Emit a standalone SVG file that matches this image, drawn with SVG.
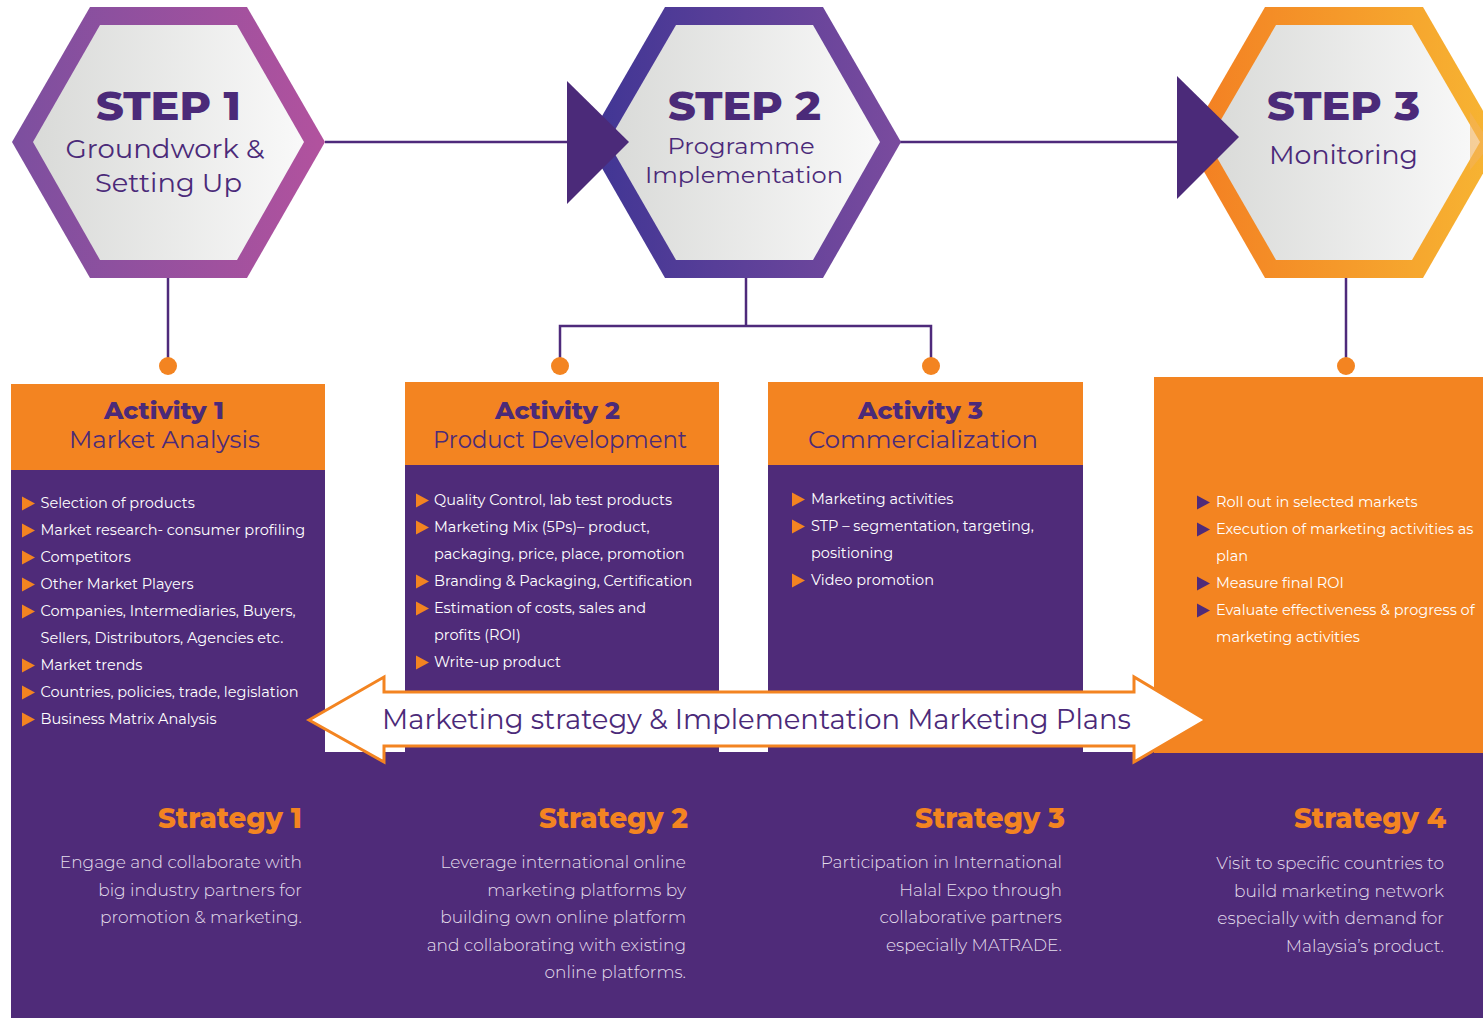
<svg xmlns="http://www.w3.org/2000/svg" xmlns:xlink="http://www.w3.org/1999/xlink" width="1483" height="1018" viewBox="0 0 1483 1018">
<defs>
<linearGradient id="g1" x1="0" y1="0" x2="1" y2="0"><stop offset="0" stop-color="#7C4F9F"/><stop offset="1" stop-color="#B2529E"/></linearGradient>
<linearGradient id="g2" x1="0" y1="0" x2="1" y2="0"><stop offset="0" stop-color="#3F3594"/><stop offset="1" stop-color="#7A4B9E"/></linearGradient>
<linearGradient id="g3" x1="0" y1="0" x2="1" y2="0"><stop offset="0" stop-color="#F37E22"/><stop offset="1" stop-color="#F7B633"/></linearGradient>
<linearGradient id="gi" x1="0" y1="0" x2="1" y2="0"><stop offset="0" stop-color="#D9DAD8"/><stop offset="1" stop-color="#F9F9F9"/></linearGradient>
<path id="tri" d="M0,-7 L13,0 L0,7 Z"/>
<style>
text{font-family:Montserrat,"Open Sans","Liberation Sans",sans-serif;}
.step{font-size:40px;font-weight:800;fill:#4B2A79;text-anchor:middle;}
.sub{font-size:27px;font-weight:400;fill:#4B2A79;text-anchor:middle;}
.sub2{font-size:23px;font-weight:400;fill:#4B2A79;text-anchor:middle;}
.act{font-size:24px;font-weight:800;fill:#4B2A79;text-anchor:middle;}
.actsub{font-size:25px;font-weight:400;fill:#4B2A79;text-anchor:middle;}
.bul{font-size:14.5px;font-weight:400;fill:#FFFFFF;}
.stt{font-size:28px;font-weight:800;fill:#F38421;text-anchor:end;}
.stb{font-size:17px;font-weight:300;fill:#E4DEEC;text-anchor:end;}
.ban{font-size:28px;font-weight:400;fill:#4B2A79;}
.ln{stroke:#4E2A7B;stroke-width:2.5;fill:none;}
.dot{fill:#F38421;}
.ob{fill:#F38421;}
.pb{fill:#4F2B79;}
.ot{fill:#F38421;}
.pt{fill:#4F2B79;}
</style>
</defs>
<rect width="1483" height="1018" fill="#FFFFFF"/>

<g id="connectors">
<line class="ln" x1="325" y1="142" x2="570" y2="142"/>
<line class="ln" x1="900" y1="142" x2="1180" y2="142"/>
<line class="ln" x1="168" y1="278" x2="168" y2="366"/>
<polyline class="ln" points="746,278 746,326"/>
<polyline class="ln" points="560,366 560,326 931,326 931,366"/>
<line class="ln" x1="1346" y1="278" x2="1346" y2="366"/>
<circle class="dot" cx="168" cy="366" r="9"/>
<circle class="dot" cx="560" cy="366" r="9"/>
<circle class="dot" cx="931" cy="366" r="9"/>
<circle class="dot" cx="1346" cy="366" r="9"/>
</g>

<g id="step1">
<polygon points="90,7 247,7 325,142 247,278 90,278 12,142" fill="url(#g1)"/>
<polygon points="100,25 237,25 304,142 237,260 100,260 33,142" fill="url(#gi)"/>
<text class="step" x="168.5" y="120" textLength="145" lengthAdjust="spacingAndGlyphs">STEP 1</text>
<text class="sub" x="165" y="158" textLength="199" lengthAdjust="spacingAndGlyphs">Groundwork &amp;</text>
<text class="sub" x="168.5" y="192" textLength="147" lengthAdjust="spacingAndGlyphs">Setting Up</text>
</g>

<g id="step2">
<polygon points="665,7 823,7 901,142 823,278 665,278 587,142" fill="url(#g2)"/>
<polygon points="676,25 813,25 880,142 813,260 676,260 608,142" fill="url(#gi)"/>
<polygon points="567,81 629,142 567,204" fill="#4B2A79"/>
<text class="step" x="744.5" y="120" textLength="153" lengthAdjust="spacingAndGlyphs">STEP 2</text>
<text class="sub2" x="741" y="154" textLength="147" lengthAdjust="spacingAndGlyphs">Programme</text>
<text class="sub2" x="744" y="183" textLength="198" lengthAdjust="spacingAndGlyphs">Implementation</text>
</g>

<g id="step3">
<polygon points="1265,7 1423,7 1501,142 1423,278 1265,278 1187,142" fill="url(#g3)"/>
<polygon points="1276,25 1412,25 1480,142 1412,260 1276,260 1208,142" fill="url(#gi)"/>
<polygon points="1470,112 1483,132 1483,154 1470,170" fill="#F4B25A" opacity="0.6"/>
<polygon points="1177,76 1239,137 1177,199" fill="#4B2A79"/>
<text class="step" x="1343.5" y="120" textLength="153" lengthAdjust="spacingAndGlyphs">STEP 3</text>
<text class="sub" x="1343.5" y="164" textLength="149" lengthAdjust="spacingAndGlyphs">Monitoring</text>
</g>

<g id="strategy-band">
<rect x="11" y="752" width="1472" height="266" class="pb"/>
</g>

<g id="activity1">
<rect x="11" y="384" width="314" height="86" class="ob"/>
<rect x="11" y="470" width="314" height="283" class="pb"/>
<text class="act" x="164" y="419" textLength="120" lengthAdjust="spacingAndGlyphs">Activity 1</text>
<text class="actsub" x="164.5" y="448" textLength="191" lengthAdjust="spacingAndGlyphs">Market Analysis</text>
<use xlink:href="#tri" href="#tri" class="ot" x="22" y="503.5"/>
<use xlink:href="#tri" href="#tri" class="ot" x="22" y="530.5"/>
<use xlink:href="#tri" href="#tri" class="ot" x="22" y="557.5"/>
<use xlink:href="#tri" href="#tri" class="ot" x="22" y="584.5"/>
<use xlink:href="#tri" href="#tri" class="ot" x="22" y="611.5"/>
<use xlink:href="#tri" href="#tri" class="ot" x="22" y="665.5"/>
<use xlink:href="#tri" href="#tri" class="ot" x="22" y="692.5"/>
<use xlink:href="#tri" href="#tri" class="ot" x="22" y="719.5"/>
<text class="bul" x="40.5" y="508">Selection of products</text>
<text class="bul" x="40.5" y="535">Market research- consumer profiling</text>
<text class="bul" x="40.5" y="562">Competitors</text>
<text class="bul" x="40.5" y="589">Other Market Players</text>
<text class="bul" x="40.5" y="616">Companies, Intermediaries, Buyers,</text>
<text class="bul" x="40.5" y="643">Sellers, Distributors, Agencies etc.</text>
<text class="bul" x="40.5" y="670">Market trends</text>
<text class="bul" x="40.5" y="697">Countries, policies, trade, legislation</text>
<text class="bul" x="40.5" y="724">Business Matrix Analysis</text>
</g>

<g id="activity2">
<rect x="405" y="382" width="314" height="83" class="ob"/>
<rect x="405" y="465" width="314" height="288" class="pb"/>
<text class="act" x="557.5" y="419" textLength="125" lengthAdjust="spacingAndGlyphs">Activity 2</text>
<text class="actsub" x="560" y="448" textLength="254" lengthAdjust="spacingAndGlyphs">Product Development</text>
<use xlink:href="#tri" href="#tri" class="ot" x="416" y="500.5"/>
<use xlink:href="#tri" href="#tri" class="ot" x="416" y="527.5"/>
<use xlink:href="#tri" href="#tri" class="ot" x="416" y="581.5"/>
<use xlink:href="#tri" href="#tri" class="ot" x="416" y="608.5"/>
<use xlink:href="#tri" href="#tri" class="ot" x="416" y="662.5"/>
<text class="bul" x="434" y="505">Quality Control, lab test products</text>
<text class="bul" x="434" y="532">Marketing Mix (5Ps)– product,</text>
<text class="bul" x="434" y="559">packaging, price, place, promotion</text>
<text class="bul" x="434" y="586">Branding &amp; Packaging, Certification</text>
<text class="bul" x="434" y="613">Estimation of costs, sales and</text>
<text class="bul" x="434" y="640">profits (ROI)</text>
<text class="bul" x="434" y="667">Write-up product</text>
</g>

<g id="activity3">
<rect x="768" y="382" width="315" height="83" class="ob"/>
<rect x="768" y="465" width="315" height="288" class="pb"/>
<text class="act" x="920.5" y="419" textLength="125" lengthAdjust="spacingAndGlyphs">Activity 3</text>
<text class="actsub" x="923" y="448" textLength="230" lengthAdjust="spacingAndGlyphs">Commercialization</text>
<use xlink:href="#tri" href="#tri" class="ot" x="792" y="499.5"/>
<use xlink:href="#tri" href="#tri" class="ot" x="792" y="526.5"/>
<use xlink:href="#tri" href="#tri" class="ot" x="792" y="580.5"/>
<text class="bul" x="811" y="504">Marketing activities</text>
<text class="bul" x="811" y="531">STP – segmentation, targeting,</text>
<text class="bul" x="811" y="558">positioning</text>
<text class="bul" x="811" y="585">Video promotion</text>
</g>

<g id="activity4">
<rect x="1154" y="377" width="329" height="376" class="ob"/>
<use xlink:href="#tri" href="#tri" class="pt" x="1197" y="502.5"/>
<use xlink:href="#tri" href="#tri" class="pt" x="1197" y="529.5"/>
<use xlink:href="#tri" href="#tri" class="pt" x="1197" y="583.5"/>
<use xlink:href="#tri" href="#tri" class="pt" x="1197" y="610.5"/>
<text class="bul" x="1216" y="507">Roll out in selected markets</text>
<text class="bul" x="1216" y="534">Execution of marketing activities as</text>
<text class="bul" x="1216" y="561">plan</text>
<text class="bul" x="1216" y="588">Measure final ROI</text>
<text class="bul" x="1216" y="615">Evaluate effectiveness &amp; progress of</text>
<text class="bul" x="1216" y="642">marketing activities</text>
</g>

<g id="banner-arrow">
<polygon points="309,720 384,677 384,692 1134,692 1134,677 1206,720 1134,762 1134,746 384,746 384,762" fill="#FFFFFF" stroke="#F38421" stroke-width="3" stroke-linejoin="miter"/>
<text class="ban" x="382" y="729" textLength="749" lengthAdjust="spacingAndGlyphs">Marketing strategy &amp; Implementation Marketing Plans</text>
</g>

<g id="strategy1">
<text class="stt" x="302" y="828" textLength="144" lengthAdjust="spacingAndGlyphs">Strategy 1</text>
<text class="stb" x="302" y="868">Engage and collaborate with</text>
<text class="stb" x="302" y="895.5">big industry partners for</text>
<text class="stb" x="302" y="923">promotion &amp; marketing.</text>
</g>

<g id="strategy2">
<text class="stt" x="688" y="828" textLength="149" lengthAdjust="spacingAndGlyphs">Strategy 2</text>
<text class="stb" x="686" y="868">Leverage international online</text>
<text class="stb" x="686" y="895.5">marketing platforms by</text>
<text class="stb" x="686" y="923">building own online platform</text>
<text class="stb" x="686" y="950.5">and collaborating with existing</text>
<text class="stb" x="686" y="978">online platforms.</text>
</g>

<g id="strategy3">
<text class="stt" x="1065" y="828" textLength="150" lengthAdjust="spacingAndGlyphs">Strategy 3</text>
<text class="stb" x="1062" y="868">Participation in International</text>
<text class="stb" x="1062" y="895.5">Halal Expo through</text>
<text class="stb" x="1062" y="923">collaborative partners</text>
<text class="stb" x="1062" y="950.5">especially MATRADE.</text>
</g>

<g id="strategy4">
<text class="stt" x="1446" y="828" textLength="152" lengthAdjust="spacingAndGlyphs">Strategy 4</text>
<text class="stb" x="1444" y="869">Visit to specific countries to</text>
<text class="stb" x="1444" y="896.5">build marketing network</text>
<text class="stb" x="1444" y="924">especially with demand for</text>
<text class="stb" x="1444" y="951.5">Malaysia’s product.</text>
</g>
</svg>
